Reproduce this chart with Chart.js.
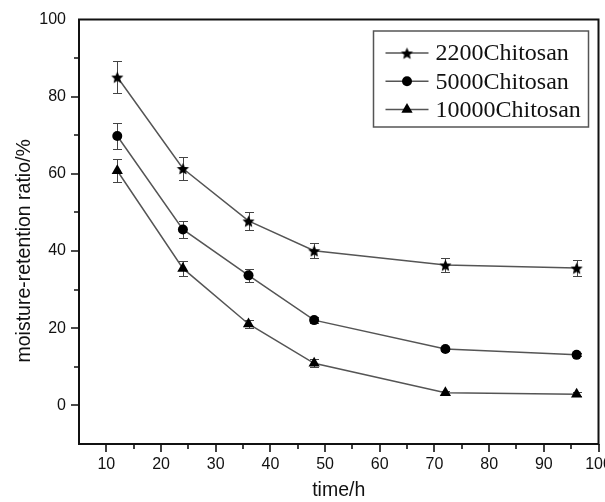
<!DOCTYPE html>
<html>
<head>
<meta charset="utf-8">
<script src="https://cdn.jsdelivr.net/npm/chart.js@4.4.0/dist/chart.umd.min.js"></script>
<style>
  html, body { margin: 0; padding: 0; background: #fff; }
  #wrap { width: 605px; height: 502px; }
</style>
</head>
<body>
<div id="wrap"><canvas id="c" width="605" height="502"></canvas></div>
<script>
// Sampling times (h)
const timeHours = [12, 24, 36, 48, 72, 96];

// Moisture-retention ratio (%) and standard deviation for each chitosan
const seriesLabels = ['2200Chitosan', '5000Chitosan', '10000Chitosan'];
const ratio2200 = [85.1, 61.4, 47.8, 40.1, 36.4, 35.6];
const err2200 = [4.2, 3.0, 2.3, 2.0, 1.9, 2.1];
const ratio5000 = [69.8, 45.6, 33.7, 22.1, 14.6, 13.1];
const err5000 = [3.4, 2.2, 1.6, 0.8, 0.4, 0.4];
const ratio10000 = [60.8, 35.5, 21.1, 10.9, 3.3, 2.9];
const err10000 = [3.0, 1.9, 1.0, 1.0, 0.5, 0.5];

// Labelled ticks on each axis
const xTickLabels = ['10', '20', '30', '40', '50', '60', '70', '80', '90', '100'];
const yTickLabels = ['0', '20', '40', '60', '80', '100'];

// Axis titles
const xTitle = 'time/h';
const yTitle = 'moisture-retention ratio/%';

const LINE_COLOR = '#555';
const INK = '#111';
const SANS = '"Liberation Sans", Arial, sans-serif';

// Filled five-pointed star used as a point marker
function makeStar(r) {
  const s = Math.ceil(r * 2) + 2;
  const c = document.createElement('canvas');
  c.width = s; c.height = s;
  const g = c.getContext('2d');
  g.fillStyle = '#000';
  g.beginPath();
  for (let i = 0; i < 10; i++) {
    const rr = i % 2 ? r * 0.46 : r;
    const a = -Math.PI / 2 + i * Math.PI / 5;
    g.lineTo(s / 2 + rr * Math.cos(a), s / 2 + 0.8 + rr * Math.sin(a));
  }
  g.closePath();
  g.fill();
  return c;
}
const starMark = makeStar(6.4);

function toPoints(values) {
  return timeHours.map((t, i) => ({ x: t, y: values[i] }));
}

// Vertical error bars with caps, drawn beneath the lines and markers
const errorBars = {
  id: 'errorBars',
  beforeDatasetsDraw(chart) {
    const { ctx, scales: { x, y } } = chart;
    ctx.save();
    ctx.strokeStyle = '#444';
    ctx.lineWidth = 1;
    chart.data.datasets.forEach(ds => {
      ds.data.forEach((p, j) => {
        const e = ds.errors[j];
        const px = Math.round(x.getPixelForValue(p.x)) + 0.5;
        const top = Math.round(y.getPixelForValue(p.y + e)) + 0.5;
        const bot = Math.round(y.getPixelForValue(p.y - e)) + 0.5;
        ctx.beginPath();
        ctx.moveTo(px, top); ctx.lineTo(px, bot);
        ctx.moveTo(px - 4.5, top); ctx.lineTo(px + 4.5, top);
        ctx.moveTo(px - 4.5, bot); ctx.lineTo(px + 4.5, bot);
        ctx.stroke();
      });
    });
    ctx.restore();
  }
};

// Box frame, outward major/minor tick marks and the vertical axis title
const frame = {
  id: 'frame',
  afterDatasetsDraw(chart) {
    const { ctx, chartArea: a, scales: { x, y } } = chart;
    ctx.save();
    ctx.strokeStyle = INK;
    ctx.lineWidth = 2;
    ctx.strokeRect(a.left, a.top, a.right - a.left, a.bottom - a.top);
    ctx.lineWidth = 1.6;
    ctx.beginPath();
    x.ticks.forEach(t => {
      if (t.value <= x.min) return;
      const px = Math.round(x.getPixelForValue(t.value));
      const len = xTickLabels.includes(String(t.value)) ? 8 : 5;
      ctx.moveTo(px, a.bottom); ctx.lineTo(px, a.bottom + len);
    });
    y.ticks.forEach(t => {
      if (t.value <= y.min || t.value >= y.max) return;
      const py = Math.round(y.getPixelForValue(t.value));
      const len = yTickLabels.includes(String(t.value)) ? 8 : 5;
      ctx.moveTo(a.left, py); ctx.lineTo(a.left - len, py);
    });
    ctx.stroke();

    ctx.translate(25, a.top + (a.bottom - a.top) * 0.545);
    ctx.rotate(-Math.PI / 2);
    ctx.font = '19.5px ' + SANS;
    ctx.fillStyle = INK;
    ctx.textAlign = 'center';
    ctx.textBaseline = 'middle';
    ctx.fillText(yTitle, 0, 0);
    ctx.restore();
  }
};

// Boxed legend in the upper right of the plot
const boxLegend = {
  id: 'boxLegend',
  afterDraw(chart) {
    const { ctx, chartArea: a } = chart;
    const right = a.right - 10, top = a.top + 11.5;
    const left = right - 215, height = 96;
    ctx.save();
    ctx.strokeStyle = '#555';
    ctx.lineWidth = 1.5;
    ctx.strokeRect(left, top, right - left, height);
    ctx.font = '24px "Liberation Serif", "Times New Roman", serif';
    ctx.textBaseline = 'middle';
    chart.data.datasets.forEach((ds, i) => {
      const cy = top + 22 + i * 28.3;
      ctx.strokeStyle = LINE_COLOR;
      ctx.lineWidth = 1.5;
      ctx.beginPath();
      ctx.moveTo(left + 12, cy); ctx.lineTo(left + 55, cy);
      ctx.stroke();
      ctx.fillStyle = '#000';
      ctx.strokeStyle = '#000';
      Chart.helpers.drawPoint(ctx, {
        pointStyle: ds.pointStyle, radius: ds.pointRadius, rotation: 0, borderWidth: 0
      }, left + 33.5, cy);
      ctx.fillStyle = INK;
      ctx.fillText(ds.label, left + 62, cy + 1);
    });
    ctx.restore();
  }
};

const tickFont = { family: SANS, size: 16 };
const titleFont = { family: SANS, size: 19.5 };

function makeSeries(label, values, errors, style, radius) {
  return {
    label,
    data: toPoints(values),
    errors,
    borderColor: LINE_COLOR,
    borderWidth: 1.5,
    backgroundColor: '#000',
    pointBackgroundColor: '#000',
    pointBorderColor: '#000',
    pointBorderWidth: 0,
    pointStyle: style,
    pointRadius: radius,
    pointHoverRadius: radius,
    tension: 0,
    fill: false
  };
}

new Chart(document.getElementById('c'), {
  type: 'line',
  data: {
    datasets: [
      makeSeries(seriesLabels[0], ratio2200, err2200, starMark, 6.4),
      makeSeries(seriesLabels[1], ratio5000, err5000, 'circle', 5),
      makeSeries(seriesLabels[2], ratio10000, err10000, 'triangle', 6.5)
    ]
  },
  options: {
    responsive: false,
    animation: false,
    devicePixelRatio: 1,
    layout: { padding: { top: 19.5, right: 5, bottom: 0, left: 0 } },
    plugins: {
      legend: { display: false },
      tooltip: { enabled: false }
    },
    scales: {
      x: {
        type: 'linear',
        min: 5,
        max: 100,
        grid: { display: false, drawTicks: false },
        border: { display: false },
        ticks: {
          stepSize: 5,
          autoSkip: false,
          maxRotation: 0,
          padding: 11,
          color: INK,
          font: tickFont,
          callback: v => xTickLabels.includes(String(v)) ? String(v) : ''
        },
        title: {
          display: true,
          text: xTitle,
          color: INK,
          font: titleFont,
          padding: { top: 0, bottom: 0 }
        },
        afterFit(s) {
          s.height = 58;
          s.paddingLeft = 0;
          s.paddingRight = 0;
        }
      },
      y: {
        min: -10,
        max: 100,
        grid: { display: false, drawTicks: false },
        border: { display: false },
        ticks: {
          stepSize: 10,
          autoSkip: false,
          padding: 13,
          color: INK,
          font: tickFont,
          callback: v => yTickLabels.includes(String(v)) ? String(v) : ''
        },
        title: { display: false },
        afterFit(s) {
          s.width = 79;
          s.paddingTop = 0;
          s.paddingBottom = 0;
        }
      }
    }
  },
  plugins: [errorBars, frame, boxLegend]
});
</script>
</body>
</html>
